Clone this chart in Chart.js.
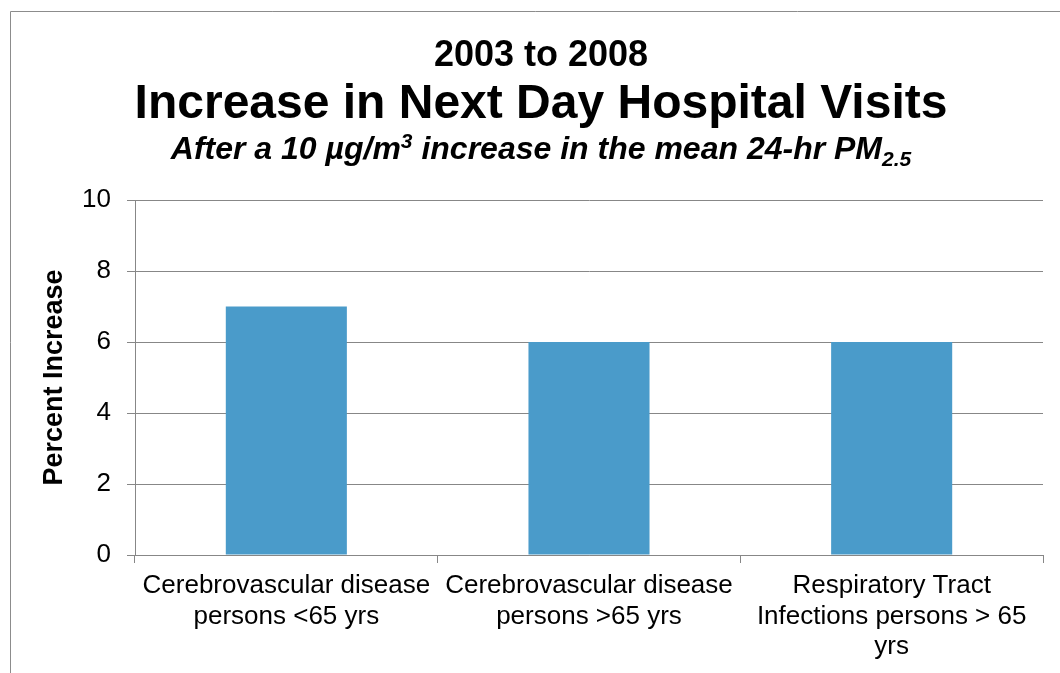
<!DOCTYPE html>
<html>
<head>
<meta charset="utf-8">
<script src="https://cdn.jsdelivr.net/npm/chart.js@4"></script>
<style>
  html, body { margin: 0; padding: 0; background: #fff; }
  #wrap { width: 1060px; height: 673px; position: relative; }
</style>
</head>
<body>
<div id="wrap"><canvas id="myChart"></canvas></div>
<script>
(() => {
    const categories = [
        ['Cerebrovascular disease', 'persons <65 yrs'],
        ['Cerebrovascular disease', 'persons >65 yrs'],
        ['Respiratory Tract', 'Infections persons > 65', 'yrs']
    ];
    const percentIncrease = [7, 6, 6];
    const yTicks = [0, 2, 4, 6, 8, 10];

    const FONT = "'Liberation Sans', Arial, sans-serif";
    const gridColor = '#878787';

    // titles + outer frame, drawn straight on the canvas
    const headerPlugin = {
        id: 'header',
        afterDraw(chart) {
            const ctx = chart.ctx;
            const cx = 541;
            ctx.save();
            ctx.strokeStyle = '#8c8c8c';
            ctx.lineWidth = 1;
            ctx.beginPath();
            ctx.moveTo(10.5, 673);
            ctx.lineTo(10.5, 11.5);
            ctx.lineTo(1060, 11.5);
            ctx.stroke();

            ctx.fillStyle = '#000';
            ctx.textAlign = 'center';
            ctx.textBaseline = 'alphabetic';
            ctx.font = `bold 36px ${FONT}`;
            ctx.fillText('2003 to 2008', cx, 66);
            ctx.font = `bold 48px ${FONT}`;
            ctx.fillText('Increase in Next Day Hospital Visits', cx, 118);

            // subtitle with superscript and subscript
            const parts = [
                { t: 'After a 10 \u00b5g/m', size: 32, dy: 0 },
                { t: '3', size: 21, dy: -11 },
                { t: ' increase in the mean 24-hr PM', size: 32, dy: 0 },
                { t: '2.5', size: 21, dy: 7 }
            ];
            let total = 0;
            parts.forEach(p => {
                ctx.font = `italic bold ${p.size}px ${FONT}`;
                p.w = ctx.measureText(p.t).width;
                total += p.w;
            });
            let x = cx - total / 2;
            ctx.textAlign = 'left';
            parts.forEach(p => {
                ctx.font = `italic bold ${p.size}px ${FONT}`;
                ctx.fillText(p.t, x, 159 + p.dy);
                x += p.w;
            });
            ctx.restore();
        }
    };

    const ctx = document.getElementById('myChart').getContext('2d');
    const myChart = new Chart(ctx, {
        type: 'bar',
        data: {
            labels: categories,
            datasets: [{
                label: 'Percent Increase',
                data: percentIncrease,
                backgroundColor: '#4a9bca',
                borderWidth: 0,
                barPercentage: 0.4,
                categoryPercentage: 1
            }]
        },
        options: {
            responsive: true,
            maintainAspectRatio: false,
            animation: false,
            layout: { padding: { top: 200, right: 17, left: 38, bottom: 0 } },
            plugins: {
                legend: { display: false },
                tooltip: { enabled: false }
            },
            scales: {
                x: {
                    grid: {
                        drawOnChartArea: false,
                        drawTicks: true,
                        tickLength: 8,
                        color: gridColor,
                        offset: true
                    },
                    border: { display: true, color: gridColor, width: 1 },
                    ticks: {
                        color: '#000',
                        padding: 8,
                        maxRotation: 0,
                        autoSkip: false,
                        font: { family: FONT, size: 26, lineHeight: 1.17 }
                    },
                    afterFit: (s) => { s.height = 118; }
                },
                y: {
                    min: 0,
                    max: 10,
                    afterBuildTicks: (s) => { s.ticks = yTicks.map(v => ({ value: v })); },
                    grid: { color: gridColor, tickLength: 8, lineWidth: 1 },
                    border: { display: true, color: gridColor, width: 1 },
                    ticks: {
                        color: '#000',
                        padding: 16,
                        font: { family: FONT, size: 26 }
                    },
                    title: {
                        display: true,
                        text: 'Percent Increase',
                        color: '#000',
                        padding: 0,
                        font: { family: FONT, size: 27, weight: 'bold', lineHeight: 1.2 }
                    },
                    afterFit: (s) => { s.width = 97; }
                }
            }
        },
        plugins: [headerPlugin]
    });
})();
</script>
</body>
</html>
